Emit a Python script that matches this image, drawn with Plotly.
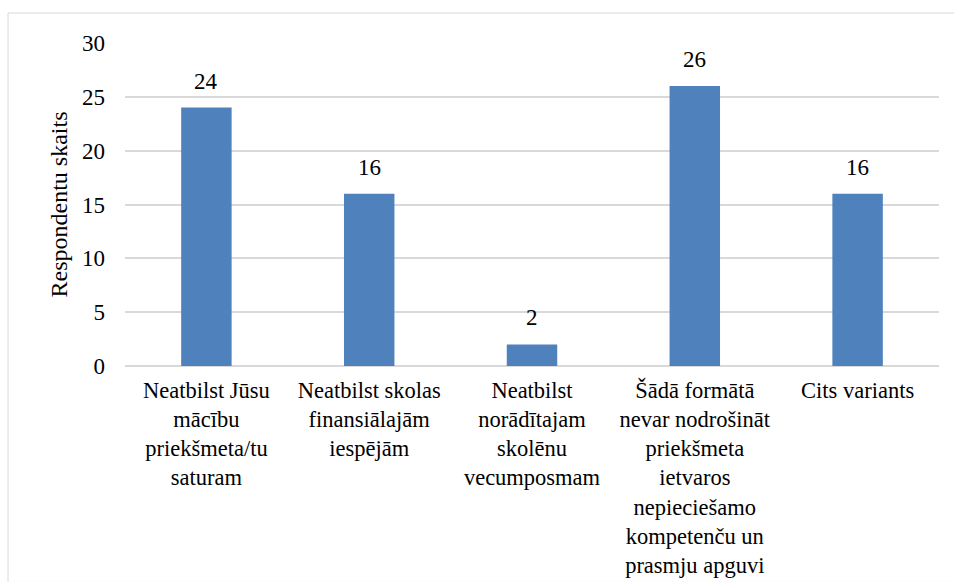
import plotly.graph_objects as go

categories = [
    "Neatbilst Jūsu<br>mācību<br>priekšmeta/tu<br>saturam",
    "Neatbilst skolas<br>finansiālajām<br>iespējām",
    "Neatbilst<br>norādītajam<br>skolēnu<br>vecumposmam",
    "Šādā formātā<br>nevar nodrošināt<br>priekšmeta<br>ietvaros<br>nepieciešamo<br>kompetenču un<br>prasmju apguvi",
    "Cits variants",
]
values = [24, 16, 2, 26, 16]
y_ticks = [0, 5, 10, 15, 20, 25, 30]
y_title = "Respondentu skaits"

FONT = "Liberation Serif"
BAR = "#4F81BD"
GRID = "#D9D9D9"

fig = go.Figure(
    go.Bar(x=categories, y=values, marker=dict(color=BAR, line=dict(width=0)))
)

for c, v in zip(categories, values):
    fig.add_annotation(
        x=c, y=v, text=str(v), showarrow=False, yanchor="bottom",
        yshift=12, font=dict(family=FONT, size=23),
    )

fig.add_shape(
    type="rect", xref="paper", yref="paper",
    x0=-0.1437, x1=1.02, y0=-0.67, y1=1.0929,
    line=dict(color=GRID, width=1), layer="below",
)

fig.update_layout(
    width=954, height=582,
    margin=dict(l=125, r=15, t=43, b=216, autoexpand=False),
    paper_bgcolor="white", plot_bgcolor="white",
    bargap=0.69,
    showlegend=False,
    font=dict(family=FONT, size=22, color="black"),
)
fig.update_xaxes(
    automargin=False,
    showgrid=False, showline=False, zeroline=False,
    tickfont=dict(family=FONT, size=22.5),
    ticklabelstandoff=8,
)
fig.update_yaxes(
    automargin=False,
    range=[0, 30], tickvals=y_ticks,
    showgrid=True, gridcolor=GRID, gridwidth=1.5,
    zeroline=True, zerolinecolor=GRID, zerolinewidth=1.5,
    showline=False,
    tickfont=dict(family=FONT, size=23),
    ticklabelstandoff=19,
    title=dict(text=y_title, font=dict(family=FONT, size=24), standoff=7),
)

fig.write_html("out.html", post_script="document.body.style.margin='0';", config={"displayModeBar": False})
